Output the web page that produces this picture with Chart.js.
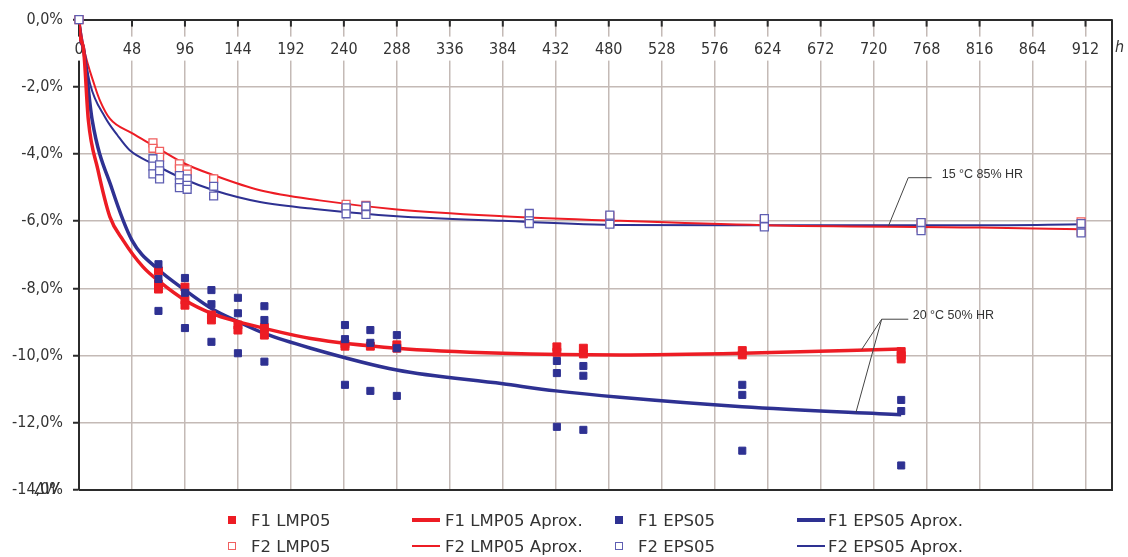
<!DOCTYPE html>
<html>
<head>
<meta charset="utf-8">
<script src="https://cdn.jsdelivr.net/npm/chart.js@4.4.1/dist/chart.umd.min.js"></script>
<style>
body { margin: 0; background: #fff; }
#wrap { position: relative; width: 1128px; height: 557px; }
#legend { position: absolute; left: 0; top: 0; width: 1128px; height: 557px; pointer-events: none;
  font-family: "DejaVu Sans", sans-serif; font-size: 16.5px; color: #333; }
.item { position: absolute; height: 22px; display: flex; align-items: center; white-space: nowrap; }
.sample { display: flex; align-items: center; justify-content: center; height: 22px; }
</style>
</head>
<body>
<div id="wrap">
  <canvas id="chart"></canvas>
  <div id="legend"></div>
</div>
<script>
// measured points (h, mass loss %)
let f1LmpHours = [0, 72, 72, 72, 96, 96, 96, 120, 120, 144, 144, 168, 168, 241, 241, 264, 288, 288, 433, 433, 457, 457, 601, 601, 745, 745, 745]
let f1LmpValues = [0, -7.48, -7.87, -8.02, -7.96, -8.35, -8.5, -8.79, -8.94, -9.09, -9.24, -9.16, -9.39, -9.65, -9.72, -9.72, -9.68, -9.78, -9.74, -9.9, -9.78, -9.95, -9.85, -9.98, -9.88, -10.0, -10.1]

let f1EpsHours = [0, 72, 72, 72, 96, 96, 96, 120, 120, 120, 144, 144, 144, 168, 168, 168, 241, 241, 241, 264, 264, 264, 288, 288, 288, 433, 433, 433, 457, 457, 457, 601, 601, 601, 745, 745, 745]
let f1EpsValues = [0, -7.28, -7.72, -8.67, -7.69, -8.13, -9.18, -8.05, -8.47, -9.59, -8.28, -8.74, -9.93, -8.53, -8.94, -10.18, -9.09, -9.51, -10.87, -9.24, -9.62, -11.05, -9.39, -9.78, -11.2, -10.16, -10.52, -12.12, -10.31, -10.6, -12.21, -10.87, -11.17, -12.83, -11.32, -11.65, -13.27]

let f2LmpHours = [0, 67, 67, 73, 73, 91, 91, 98, 98, 122, 242, 242, 260, 260, 408, 408, 481, 481, 621, 621, 763, 763, 908, 908]
let f2LmpValues = [0, -3.67, -3.83, -3.92, -4.1, -4.29, -4.44, -4.47, -4.6, -4.74, -5.5, -5.62, -5.53, -5.65, -5.82, -6.0, -5.85, -6.05, -5.95, -6.1, -6.05, -6.2, -6.02, -6.3]

let f2EpsHours = [0, 67, 67, 67, 73, 73, 73, 91, 91, 91, 98, 98, 98, 122, 122, 242, 242, 260, 260, 408, 408, 408, 481, 481, 621, 621, 763, 763, 908, 908]
let f2EpsValues = [0, -4.14, -4.36, -4.59, -4.32, -4.5, -4.74, -4.64, -4.86, -5.0, -4.74, -4.93, -5.05, -4.96, -5.25, -5.6, -5.78, -5.55, -5.8, -5.77, -5.99, -6.07, -5.82, -6.09, -5.92, -6.17, -6.04, -6.28, -6.07, -6.35]

// fitted curves
let f1LmpFitHours = [0, 1, 4, 8.5, 17, 28, 40, 58, 73, 96, 120, 144, 168, 210, 288, 384, 490, 601, 745]
let f1LmpFitValues = [0, -0.5, -0.85, -3.0, -4.45, -5.87, -6.57, -7.36, -7.8, -8.35, -8.74, -8.99, -9.19, -9.49, -9.78, -9.93, -9.98, -9.93, -9.8]

let f1EpsFitHours = [0, 1, 4, 12, 30, 48, 72, 96, 120, 144, 168, 210, 288, 384, 432, 490, 601, 745]
let f1EpsFitValues = [0, -0.5, -0.85, -3.0, -5.05, -6.57, -7.44, -8.05, -8.6, -8.99, -9.34, -9.78, -10.43, -10.84, -11.05, -11.24, -11.52, -11.76]

let f2LmpFitHours = [0, 4, 14.5, 19, 28, 48, 67, 96, 122, 164, 218, 288, 384, 490, 620, 816, 909]
let f2LmpFitValues = [0, -0.8, -2.0, -2.41, -2.95, -3.38, -3.74, -4.29, -4.63, -5.08, -5.38, -5.65, -5.85, -5.99, -6.12, -6.19, -6.24]

let f2EpsFitHours = [0, 4, 10, 23.5, 35, 46, 67, 96, 122, 164, 218, 288, 384, 490, 620, 816, 909]
let f2EpsFitValues = [0, -0.8, -1.91, -2.9, -3.45, -3.89, -4.29, -4.76, -5.08, -5.43, -5.65, -5.85, -5.99, -6.11, -6.12, -6.12, -6.09]

let xStep = 48
let xLastTick = 912
let xMax = 936
let notes = ['15 °C 85% HR', '20 °C 50% HR']

let red = '#ed1c24'
let blue = '#2e3192'
let axisColor = '#2b2b2b'
let gridColor = '#c4bab6'
let tickFont = '"DejaVu Sans Condensed", "DejaVu Sans", sans-serif'

let toPoints = (hours, values) => hours.map((h, i) => ({x: h, y: values[i]}))

let marker = (label, hours, values, color, fill, r, order) => ({
    label: label,
    data: toPoints(hours, values),
    showLine: false,
    pointStyle: 'rect',
    pointRadius: r,
    pointHoverRadius: r,
    pointBackgroundColor: fill,
    pointBorderColor: color,
    pointBorderWidth: fill === '#fff' ? 1.3 : 1,
    backgroundColor: fill,
    borderColor: color,
    clip: false,
    order: order
})

let fit = (label, hours, values, color, width) => ({
    label: label,
    data: toPoints(hours, values),
    showLine: true,
    borderColor: color,
    backgroundColor: color,
    borderWidth: width,
    pointRadius: 0,
    pointHoverRadius: 0,
    cubicInterpolationMode: 'monotone',
    fill: false,
    order: 10
})

let decor = {
    id: 'decor',
    beforeDatasetsDraw(chart) {
        let {ctx, chartArea: a, scales: {x, y}} = chart
        ctx.save()
        // frame right + bottom
        ctx.strokeStyle = axisColor
        ctx.lineWidth = 2
        ctx.beginPath()
        ctx.moveTo(a.left, a.bottom)
        ctx.lineTo(a.right, a.bottom)
        ctx.lineTo(a.right, a.top)
        ctx.stroke()
        // x labels sit under the top axis
        ctx.font = '16px ' + tickFont
        ctx.textAlign = 'center'
        ctx.textBaseline = 'middle'
        x.ticks.forEach(t => {
            let px = x.getPixelForValue(t.value)
            let label = String(t.value)
            let w = ctx.measureText(label).width
            ctx.fillStyle = '#fff'
            ctx.fillRect(px - w / 2 - 3, a.top + 17, w + 6, 24)
            ctx.fillStyle = '#333'
            ctx.fillText(label, px, a.top + 30)
            ctx.beginPath()
            ctx.moveTo(px, a.top)
            ctx.lineTo(px, a.top + 7)
            ctx.stroke()
        })
        ctx.font = 'italic 16px ' + tickFont
        ctx.textAlign = 'left'
        ctx.fillStyle = '#333'
        ctx.fillText('h', a.right + 3, a.top + 28)
        ctx.fillText('\u0394W', 35, a.bottom)
        ctx.restore()
    },
    afterDatasetsDraw(chart) {
        let {ctx, scales: {x, y}} = chart
        let P = (h, v) => [x.getPixelForValue(h), y.getPixelForValue(v)]
        let path = pts => {
            ctx.beginPath()
            pts.forEach((p, i) => {
                let [px, py] = P(p[0], p[1])
                i ? ctx.lineTo(px, py) : ctx.moveTo(px, py)
            })
            ctx.stroke()
        }
        ctx.save()
        ctx.strokeStyle = '#444'
        ctx.lineWidth = 1
        path([[772.6, -4.705], [751.4, -4.705], [733.3, -6.153]])
        path([[751.4, -8.917], [727.3, -8.917], [709.2, -9.818]])
        path([[727.3, -8.917], [704.0, -11.69]])
        ctx.font = '12.5px "Liberation Sans", Arial, sans-serif'
        ctx.fillStyle = '#333'
        ctx.textBaseline = 'middle'
        let [tx1, ty1] = P(781.7, -4.616)
        ctx.fillText(notes[0], tx1, ty1)
        let [tx2, ty2] = P(755.4, -8.819)
        ctx.fillText(notes[1], tx2, ty2)
        ctx.restore()
    }
}

let datasets = [
    marker('F1 LMP05', f1LmpHours, f1LmpValues, red, red, 5.6, 4),
    fit('F1 LMP05 Aprox.', f1LmpFitHours, f1LmpFitValues, red, 3.5),
    marker('F1 EPS05', f1EpsHours, f1EpsValues, blue, blue, 5, 3),
    fit('F1 EPS05 Aprox.', f1EpsFitHours, f1EpsFitValues, blue, 3.5),
    marker('F2 LMP05', f2LmpHours, f2LmpValues, '#f06060', '#fff', 5.6, 2),
    fit('F2 LMP05 Aprox.', f2LmpFitHours, f2LmpFitValues, red, 2),
    marker('F2 EPS05', f2EpsHours, f2EpsValues, '#5e5eb2', '#fff', 5.6, 1),
    fit('F2 EPS05 Aprox.', f2EpsFitHours, f2EpsFitValues, blue, 2)
]

let chart = new Chart(document.getElementById('chart'), {
    type: 'scatter',
    data: { datasets: datasets },
    options: {
        responsive: true,
        maintainAspectRatio: false,
        animation: false,
        layout: { padding: { top: 19, right: 16, bottom: 67, left: 0 } },
        plugins: {
            legend: { display: false },
            tooltip: { enabled: false }
        },
        scales: {
            x: {
                type: 'linear',
                position: 'top',
                min: 0,
                max: xMax,
                ticks: { display: false },
                afterBuildTicks: s => {
                    let t = []
                    for (let v = 0; v <= xLastTick; v += xStep) t.push({value: v})
                    s.ticks = t
                },
                grid: { color: gridColor, lineWidth: 1.5, drawTicks: false },
                border: { display: true, color: axisColor, width: 2 },
                afterFit: s => { s.height = 0 }
            },
            y: {
                min: -14,
                max: 0,
                ticks: {
                    stepSize: 2,
                    padding: 10,
                    color: '#333',
                    font: { family: tickFont, size: 16 },
                    callback: v => v.toFixed(1).replace('.', ',') + '%'
                },
                grid: { color: gridColor, lineWidth: 1.5, tickLength: 6, tickColor: axisColor, tickWidth: 2 },
                border: { display: true, color: axisColor, width: 2 },
                afterFit: s => { s.width = 79 }
            }
        }
    },
    plugins: [decor]
})

// legend, 4 columns x 2 rows
let legendCols = [{x: 222, w: 20, gap: 9}, {x: 412, w: 28, gap: 5}, {x: 609, w: 20, gap: 9}, {x: 797, w: 28, gap: 3}]
let legendRows = [509, 535]
let legendHTML = ''
chart.data.datasets.forEach((ds, i) => {
    let col = legendCols[i % 4]
    let top = legendRows[Math.floor(i / 4)]
    let sample
    if (ds.showLine) {
        sample = `<span class="sample" style="width:${col.w}px"><span style="display:block;width:${col.w}px;height:${ds.borderWidth}px;background:${ds.borderColor}"></span></span>`
    } else {
        let hollow = ds.pointBackgroundColor === '#fff'
        sample = `<span class="sample" style="width:${col.w}px"><span style="display:block;box-sizing:border-box;width:8px;height:8px;background:${ds.pointBackgroundColor};border:${hollow ? 1.3 : 0}px solid ${ds.pointBorderColor}"></span></span>`
    }
    legendHTML += `<div class="item" style="left:${col.x}px;top:${top}px">${sample}<span style="margin-left:${col.gap}px">${ds.label}</span></div>`
})
document.getElementById('legend').innerHTML = legendHTML
</script>
</body>
</html>
